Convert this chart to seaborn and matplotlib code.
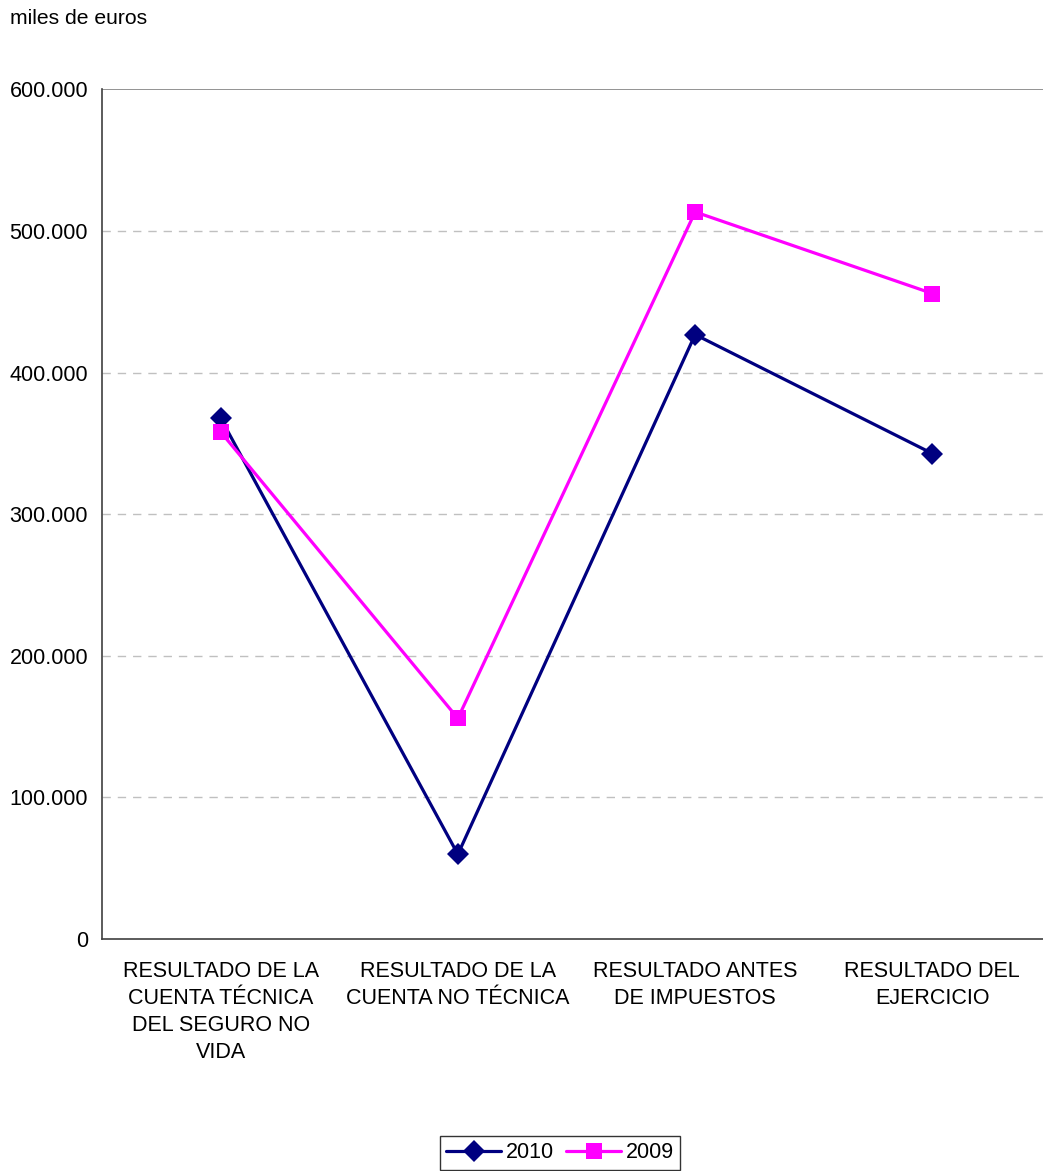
import pandas as pd
import seaborn as sns
import matplotlib.pyplot as plt
import numpy as np
from matplotlib.ticker import FixedLocator

categories = [
    "RESULTADO DE LA\nCUENTA TÉCNICA\nDEL SEGURO NO\nVIDA",
    "RESULTADO DE LA\nCUENTA NO TÉCNICA",
    "RESULTADO ANTES\nDE IMPUESTOS",
    "RESULTADO DEL\nEJERCICIO",
]
values_2010 = [367800, 59800, 426800, 342800]
values_2009 = [358100, 155800, 513400, 455800]
years = ["2010", "2009"]
yticks = [0, 100000, 200000, 300000, 400000, 500000, 600000]

sns.set_style("white")
plt.rcParams['font.family'] = ['Liberation Sans', 'DejaVu Sans']
plt.rcParams['text.color'] = 'black'
plt.rcParams['xtick.labelcolor'] = 'black'
plt.rcParams['ytick.labelcolor'] = 'black'

records = []
for i, c in enumerate(categories):
    records.append([i, values_2010[i], "2010"])
    records.append([i, values_2009[i], "2009"])
df = pd.DataFrame.from_records(records, columns=['pos', 'value', 'year'])

fig = plt.figure(figsize=(10.43, 11.71), dpi=100)
ax = fig.add_axes([102 / 1043, 232 / 1171, 949 / 1043, 849.7 / 1171])

sns.lineplot(data=df, x='pos', y='value', hue='year', style='year',
             hue_order=years, style_order=years,
             palette={'2010': '#000080', '2009': '#FF00FF'},
             markers={'2010': 'D', '2009': 's'}, dashes=False,
             markersize=11, markeredgewidth=0, linewidth=2.3, ax=ax,
             legend=False, sort=False)

ax.set_xlim(-0.5, 3.5)
ax.set_ylim(0, 600000)
ax.set_yticks(yticks)
ax.set_yticklabels([f"{v:,.0f}".replace(',', '.') for v in yticks], fontsize=15.5, color='black')
for v in yticks[1:-1]:
    ax.axhline(v, color='#c0c0c0', linestyle=(0, (6, 5)), linewidth=1, zorder=0)
ax.axhline(600000, color='#808080', linewidth=1.2, zorder=0)

ax.set_xticks(range(len(categories)))
ax.set_xticklabels(categories, fontsize=15.5, linespacing=1.38, va='top', color='black')
ax.tick_params(axis='x', which='major', length=0, pad=16)
ax.xaxis.set_minor_locator(FixedLocator([0.5, 1.5, 2.5]))
ax.tick_params(axis='x', which='minor', length=7, color='#404040', width=1)
ax.tick_params(axis='y', length=6.5, color='#404040', width=1, pad=3.5)
ax.set_xlabel('')
ax.set_ylabel('')

for s in ['top', 'right']:
    ax.spines[s].set_visible(False)
for s in ['left', 'bottom']:
    ax.spines[s].set_color('#404040')
    ax.spines[s].set_linewidth(1.2)

fig.text(10 / 1043, 1 - 18 / 1171, "miles de euros", fontsize=15.2, va='center', ha='left', color='black')

handles = [
    plt.Line2D([], [], color='#000080', marker='D', markersize=11, linewidth=2.3, markeredgewidth=0),
    plt.Line2D([], [], color='#FF00FF', marker='s', markersize=11, linewidth=2.3, markeredgewidth=0),
]
leg = fig.legend(handles, years, loc='center', bbox_to_anchor=(560 / 1043, 1 - 1153 / 1171),
                 ncol=2, fontsize=15.5, frameon=True, fancybox=False, edgecolor='black',
                 handlelength=2.55, handletextpad=0.2, columnspacing=0.6, borderpad=0.3)
leg.get_frame().set_linewidth(1)
for t in leg.get_texts():
    t.set_color('black')

plt.savefig('out.png', dpi=100)
